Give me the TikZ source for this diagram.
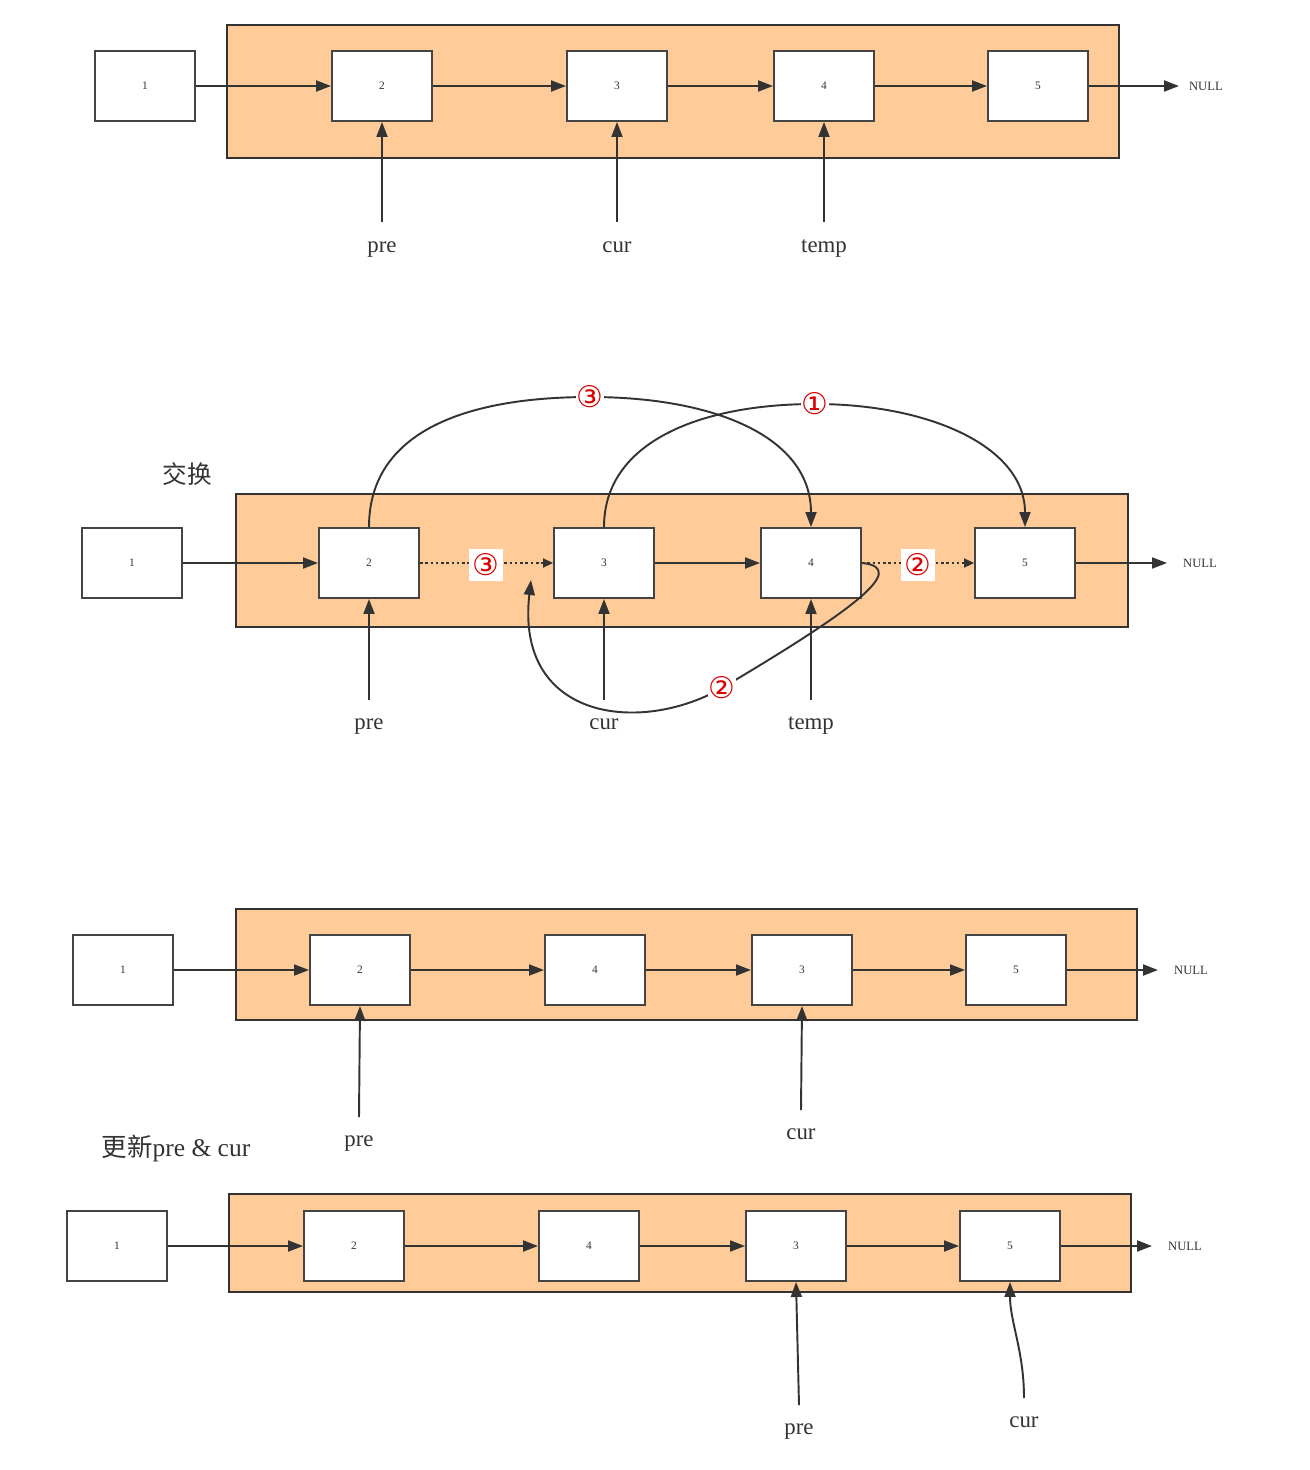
\documentclass[tikz,border=0pt]{standalone}
\usepackage{fontspec}
\setmainfont{Liberation Serif}
\newfontfamily\cjk{Noto Sans CJK SC}
\newfontfamily\djv{DejaVu Sans}
\usetikzlibrary{arrows.meta}
\definecolor{ln}{HTML}{333333}
\definecolor{bx}{HTML}{444444}
\definecolor{org}{HTML}{FFCC99}
\definecolor{rd}{HTML}{DD0000}
\begin{document}
\begin{tikzpicture}[x=0.02cm,y=-0.02cm,
  frame/.style={draw=ln,line width=1.1pt,fill=org},
  listnode/.style={draw=bx,line width=1.1pt,fill=white,minimum width=2cm,minimum height=1.4cm,inner sep=0pt,font=\fontsize{6.5}{7}\selectfont,text=ln},
  link/.style={draw=ln,line width=1.1pt,-{Triangle[length=3mm,width=2.2mm]}},
  dlink/.style={draw=ln,line width=1.1pt,dash pattern=on 1.5pt off 1.5pt,-{Triangle[length=2mm,width=1.8mm]}},
  nulltext/.style={inner ysep=0pt,font=\fontsize{7.2}{8}\selectfont,text=ln},
  ptrlabel/.style={anchor=base,font=\fontsize{13}{14}\selectfont,text=ln,inner sep=0pt},
  circlab/.style={font=\djv\fontsize{17}{18}\selectfont,text=rd,fill=white,inner sep=0.5pt},
  title/.style={text=ln,inner sep=0pt}]
\fill[white] (0,0) rectangle (1310,1470);

% ---------------- section 1 ----------------
\draw[frame] (227,25) rectangle (1119,158);
\node[listnode] (a1) at (145,86) {1};
\node[listnode] (a2) at (382,86) {2};
\node[listnode] (a3) at (617,86) {3};
\node[listnode] (a4) at (824,86) {4};
\node[listnode] (a5) at (1038,86) {5};
\node[nulltext,inner xsep=5.5pt,anchor=west] (na) at (1179,86) {NULL};
\draw[link] (a1.east) -- (a2.west);
\draw[link] (a2.east) -- (a3.west);
\draw[link] (a3.east) -- (a4.west);
\draw[link] (a4.east) -- (a5.west);
\draw[link] (a5.east) -- (na.west);
\node[ptrlabel] (apre) at (382,252) {pre};
\node[ptrlabel] (acur) at (617,252) {cur};
\node[ptrlabel] (atmp) at (824,252) {temp};
\coordinate (apres) at (382,222);
\coordinate (acurs) at (617,222);
\coordinate (atmps) at (824,222);
\draw[link] (apres) -- (a2);
\draw[link] (acurs) -- (a3);
\draw[link] (atmps) -- (a4);

% ---------------- section 2 ----------------
\node[title,font=\cjk\fontsize{14}{16}\selectfont] (tswap) at (187,474) {交换};
\draw[frame] (236,494) rectangle (1128,627);
\node[listnode] (b1) at (132,563) {1};
\node[listnode] (b2) at (369,563) {2};
\node[listnode] (b3) at (604,563) {3};
\node[listnode] (b4) at (811,563) {4};
\node[listnode] (b5) at (1025,563) {5};
\node[nulltext,inner xsep=9pt,anchor=west] (nb) at (1167,563) {NULL};
\draw[link] (b1.east) -- (b2.west);
\draw[dlink] (b2.east) -- (b3.west);
\draw[link] (b3.east) -- (b4.west);
\draw[dlink] (b4.east) -- (b5.west);
\draw[link] (b5.east) -- (nb.west);
\node[circlab,inner xsep=2pt,inner ysep=3pt] (l3) at (486,565) {③};
\node[circlab,inner xsep=2pt,inner ysep=3pt] (l2) at (918,565) {②};
\coordinate (t3) at (590,397);
\coordinate (t1) at (815,404);
\coordinate (k2) at (722,688);
\coordinate (tip2) at (531,580);
\draw[link] (b2.north) .. controls +(0,-95) and +(-125,0) .. (t3) .. controls +(125,0) and +(0,-90) .. (b4.north);
\draw[link] (b3.north) .. controls +(0,-85) and +(-115,0) .. (t1) .. controls +(115,0) and +(0,-80) .. (b5.north);
\draw[link] (b4.east) .. controls +(49,5) and +(128,-76) .. (k2) .. controls +(-82,47) and +(-16,140) .. (tip2);
\node[circlab] (c3) at (t3) {③};
\node[circlab] (c1) at (t1) {①};
\node[circlab] (c2) at (k2) {②};
\node[ptrlabel] (bpre) at (369,729) {pre};
\node[ptrlabel] (bcur) at (604,729) {cur};
\node[ptrlabel] (btmp) at (811,729) {temp};
\coordinate (bpres) at (369,700);
\coordinate (bcurs) at (604,700);
\coordinate (btmps) at (811,700);
\draw[link] (bpres) -- (b2);
\draw[link] (bcurs) -- (b3);
\draw[link] (btmps) -- (b4);

% ---------------- section 3 ----------------
\draw[frame] (236,909) rectangle (1137,1020);
\node[listnode] (c1n) at (123,970) {1};
\node[listnode] (c2n) at (360,970) {2};
\node[listnode] (c4n) at (595,970) {4};
\node[listnode] (c3n) at (802,970) {3};
\node[listnode] (c5n) at (1016,970) {5};
\node[nulltext,inner xsep=9pt,anchor=west] (nc) at (1158,970) {NULL};
\draw[link] (c1n.east) -- (c2n.west);
\draw[link] (c2n.east) -- (c4n.west);
\draw[link] (c4n.east) -- (c3n.west);
\draw[link] (c3n.east) -- (c5n.west);
\draw[link] (c5n.east) -- (nc.west);
\node[ptrlabel] (cpre) at (359,1146) {pre};
\node[ptrlabel] (ccur) at (801,1139) {cur};
\coordinate (cpres) at (359,1117);
\coordinate (ccurs) at (801,1110);
\draw[link] (cpres) -- (c2n.south);
\draw[link] (ccurs) -- (c3n.south);

% ---------------- section 4 ----------------
\node[title,font=\fontsize{14.5}{16}\selectfont] (tupd) at (176,1148) {{\cjk 更新}pre \& cur};
\draw[frame] (229,1194) rectangle (1131,1292);
\node[listnode] (d1) at (117,1246) {1};
\node[listnode] (d2) at (354,1246) {2};
\node[listnode] (d4) at (589,1246) {4};
\node[listnode] (d3) at (796,1246) {3};
\node[listnode] (d5) at (1010,1246) {5};
\node[nulltext,inner xsep=9pt,anchor=west] (nd) at (1152,1246) {NULL};
\draw[link] (d1.east) -- (d2.west);
\draw[link] (d2.east) -- (d4.west);
\draw[link] (d4.east) -- (d3.west);
\draw[link] (d3.east) -- (d5.west);
\draw[link] (d5.east) -- (nd.west);
\node[ptrlabel] (dpre) at (799,1434) {pre};
\node[ptrlabel] (dcur) at (1024,1427) {cur};
\coordinate (dpres) at (799,1405);
\coordinate (dcurs) at (1024,1398);
\draw[link] (dpres) -- (d3.south);
\draw[link] (dcurs) .. controls +(0,-47) and +(0,40) .. (d5.south);
\end{tikzpicture}
\end{document}
